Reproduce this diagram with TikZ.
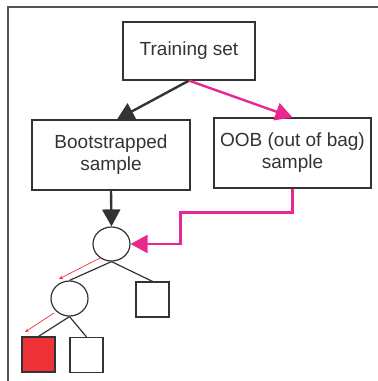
\documentclass[tikz,border=0pt]{standalone}
\usepackage{fontspec}
\setmainfont{Liberation Sans}
\usetikzlibrary{arrows.meta,shapes.geometric}
\definecolor{ink}{HTML}{333333}
\definecolor{framegray}{HTML}{555555}
\definecolor{oobpink}{HTML}{E8288F}
\definecolor{leafred}{HTML}{EE3338}
\tikzset{
  textbox/.style={draw=ink, line width=1.2pt, fill=white, inner sep=0pt,
    align=center, text=ink, font=\fontsize{19}{22}\selectfont},
  treenode/.style={ellipse, draw=ink, line width=1.2pt, fill=white, inner sep=0pt},
  leaf/.style={rectangle, draw=ink, line width=1.2pt, fill=white, inner sep=0pt,
    minimum width=33pt, minimum height=35pt},
  bigarrow/.style={line width=2.4pt, -{Triangle[length=17pt,width=18pt]}},
  edge/.style={draw=ink, line width=1.2pt},
  path hint/.style={draw=leafred, line width=0.7pt, -{Stealth[length=4pt,width=3.5pt]}}
}
\begin{document}
\begin{tikzpicture}[x=1pt,y=-1pt]
\useasboundingbox (0,0) rectangle (378,381);
% outer frame (top and left edges)
\draw[framegray, line width=1.8pt] (8,381) -- (8,7) -- (378,7);

% sample boxes
\node[textbox, minimum width=132pt, minimum height=58pt] (train) at (189,51) {Training set};
\node[textbox, minimum width=158pt, minimum height=70pt] (boot) at (111,155) {Bootstrapped\\sample};
\node[textbox, minimum width=157pt, minimum height=70pt] (oob) at (292.5,153) {OOB (out of bag)\\sample};

% decision tree
\node[treenode, minimum width=37pt, minimum height=34pt] (c1) at (111.5,244) {};
\node[treenode, minimum width=37pt, minimum height=35pt] (c2) at (69.5,298.5) {};
\node[leaf] (sq1) at (152.5,299.5) {};
\node[leaf, fill=leafred] (lred) at (38.5,354.5) {};
\node[leaf] (lwhite) at (86.5,355) {};

\draw[edge] (c1.south) -- (c2.north);
\draw[edge] (c1.south) -- (sq1.north);
\draw[edge] (c2.south) -- (lred.north);
\draw[edge] (c2.south) -- (lwhite.north);

% sampling arrows
\draw[bigarrow, ink] (train.south) -- ([xshift=6pt]boot.north);
\draw[bigarrow, oobpink] (train.south) -- (oob.north);
\draw[bigarrow, ink] (boot.south) -- (c1.north);
\draw[bigarrow, oobpink] (oob.south) -- ++(0,24) -| ([xshift=50pt]c1.east) -- (c1.east);

% path taken by an OOB sample
\coordinate (h1s) at (100,258);
\coordinate (h1e) at (59,279);
\coordinate (h2s) at (54,313);
\coordinate (h2e) at (25,332);
\draw[path hint] (h1s) -- (h1e);
\draw[path hint] (h2s) -- (h2e);
\end{tikzpicture}
\end{document}
